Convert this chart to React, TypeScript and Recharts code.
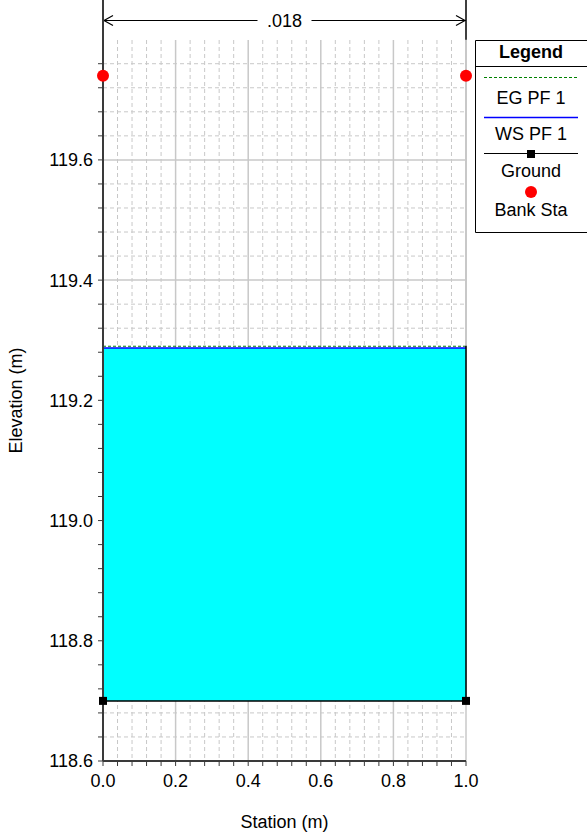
import React from 'react';
import { ComposedChart, Line, Area, Scatter, XAxis, YAxis, CartesianGrid, ReferenceLine } from 'recharts';

// cross section values
const groundStation = [0, 0, 1, 1];
const groundElev = [119.866, 118.7, 118.7, 119.866];
const wsStation = [0, 1];
const wsElev = [119.287, 119.287];
const egElev = [119.29, 119.29];
const bankStation = [0, 1];
const bankElev = [119.74, 119.74];
const nValue = '.018';
const nValueElev = 119.833;

// axis ticks (majors every 0.2, minors every 0.04)
const xTicks = [0, 0.04, 0.08, 0.12, 0.16, 0.2, 0.24, 0.28, 0.32, 0.36, 0.4, 0.44, 0.48, 0.52, 0.56, 0.6, 0.64, 0.68, 0.72, 0.76, 0.8, 0.84, 0.88, 0.92, 0.96, 1.0];
const yTicks = [118.6, 118.64, 118.68, 118.72, 118.76, 118.8, 118.84, 118.88, 118.92, 118.96, 119.0, 119.04, 119.08, 119.12, 119.16, 119.2, 119.24, 119.28, 119.32, 119.36, 119.4, 119.44, 119.48, 119.52, 119.56, 119.6, 119.64, 119.68, 119.72, 119.76];

const FONT = '"Liberation Sans", Arial, sans-serif';
const GRID = '#c8c8c8';
const AXIS = '#3a3a3a';
const GRID_TOP = 40; // grid stops below the n-value strip

const isMajor = (v: number) => Math.abs(v * 5 - Math.round(v * 5)) < 1e-6;

const groundData = groundStation.map((s, i) => ({ station: s, elev: groundElev[i] }));
const wsData = wsStation.map((s, i) => ({ station: s, ws: wsElev[i], eg: egElev[i] }));
const bankData = bankStation.map((s, i) => ({ station: s, elev: bankElev[i] }));

const GroundDot = (props: any) => {
    const { cx, cy, index } = props;
    if (cy < 10) return <g key={`gd-${index}`} />;
    return <rect key={`gd-${index}`} x={cx - 4} y={cy - 4} width={8} height={8} fill="#000" />;
};

const BankDot = (props: any) => <circle cx={props.cx} cy={props.cy} r={6} fill="#ff0000" />;

const NValueArrow = (props: any) => {
    const { x1, x2 } = props;
    const y = Math.round(props.y1) + 0.5;
    const mid = (x1 + x2) / 2;
    return (
        <g>
            <line x1={x1} y1={y} x2={mid - 27} y2={y} stroke="#000" strokeWidth={1.2} />
            <line x1={mid + 27} y1={y} x2={x2} y2={y} stroke="#000" strokeWidth={1.2} />
            <polyline points={`${x1 + 10},${y - 5} ${x1 + 1},${y} ${x1 + 10},${y + 5}`} fill="none" stroke="#000" strokeWidth={1.2} />
            <polyline points={`${x2 - 10},${y - 5} ${x2 - 1},${y} ${x2 - 10},${y + 5}`} fill="none" stroke="#000" strokeWidth={1.2} />
            <text x={mid} y={y + 6} textAnchor="middle" fontSize={18} fontFamily={FONT} fill="#000">{nValue}</text>
        </g>
    );
};

const LegendBox = () => (
    <svg width={112} height={193} style={{ position: 'absolute', left: 475, top: 40 }}>
        <path d="M112,0.5 H0.5 V192.5 H112" fill="none" stroke="#000" strokeWidth={1} />
        <line x1={0} y1={26.5} x2={112} y2={26.5} stroke="#000" strokeWidth={1} />
        <text x={56} y={18} textAnchor="middle" fontSize={18} fontWeight="bold" fontFamily={FONT}>Legend</text>
        <line x1={9} y1={37.5} x2={103} y2={37.5} stroke="#008000" strokeWidth={1} strokeDasharray="3 2" />
        <text x={56} y={64} textAnchor="middle" fontSize={18} fontFamily={FONT}>EG PF 1</text>
        <line x1={9} y1={77.5} x2={103} y2={77.5} stroke="#0000ff" strokeWidth={1.5} />
        <text x={56} y={100} textAnchor="middle" fontSize={18} fontFamily={FONT}>WS PF 1</text>
        <line x1={9} y1={113.5} x2={103} y2={113.5} stroke="#000" strokeWidth={1} />
        <rect x={52} y={110} width={8} height={8} fill="#000" />
        <text x={56} y={137} textAnchor="middle" fontSize={18} fontFamily={FONT}>Ground</text>
        <circle cx={56} cy={152} r={6} fill="#ff0000" />
        <text x={56} y={176} textAnchor="middle" fontSize={18} fontFamily={FONT}>Bank Sta</text>
    </svg>
);

export default function App() {
    const minorX = xTicks.filter((v) => !isMajor(v));
    const majorX = xTicks.filter((v) => isMajor(v));
    const minorY = yTicks.filter((v) => !isMajor(v));
    const majorY = yTicks.filter((v) => isMajor(v));
    return (
        <div style={{ position: 'relative', width: 587, height: 834, fontFamily: FONT }}>
            <style>{'body{margin:0;overflow:hidden}'}</style>
            <ComposedChart width={587} height={834} margin={{ top: 0, right: 121, bottom: 0, left: 0 }}>
                <XAxis
                    dataKey="station"
                    type="number"
                    domain={[0, 1]}
                    ticks={xTicks}
                    interval={0}
                    tickFormatter={(v: number) => (isMajor(v) ? v.toFixed(1) : '')}
                    tickSize={5}
                    tickMargin={8}
                    height={73}
                    stroke={AXIS}
                    axisLine={{ stroke: AXIS, strokeWidth: 2 }}
                    tick={{ fill: '#000', fontSize: 18, fontFamily: FONT }}
                    label={{ value: 'Station (m)', position: 'insideBottom', offset: 6, fill: '#000', fontSize: 18, fontFamily: FONT }}
                />
                <YAxis
                    type="number"
                    domain={[118.6, 'dataMax']}
                    ticks={yTicks}
                    interval={0}
                    tickFormatter={(v: number) => (isMajor(v) ? v.toFixed(1) : '')}
                    tickSize={5}
                    tickMargin={5}
                    width={103}
                    stroke={AXIS}
                    axisLine={{ stroke: AXIS, strokeWidth: 2 }}
                    tick={{ fill: '#000', fontSize: 18, fontFamily: FONT }}
                    label={({ viewBox }: any) => (
                        <text
                            x={22}
                            y={viewBox.y + viewBox.height / 2 + 20}
                            transform={`rotate(-90, 22, ${viewBox.y + viewBox.height / 2 + 20})`}
                            textAnchor="middle"
                            fontSize={18}
                            fontFamily={FONT}
                            fill="#000"
                        >
                            Elevation (m)
                        </text>
                    )}
                />
                <CartesianGrid
                    y={GRID_TOP}
                    height={761 - GRID_TOP}
                    horizontalValues={minorY}
                    verticalValues={minorX}
                    stroke={GRID}
                    strokeDasharray="4 3"
                />
                <CartesianGrid
                    y={GRID_TOP}
                    height={761 - GRID_TOP}
                    horizontalValues={majorY}
                    verticalValues={majorX}
                    stroke={GRID}
                    strokeWidth={1.5}
                />
                <Area
                    data={wsData}
                    dataKey="ws"
                    type="linear"
                    baseValue={118.7}
                    fill="#00ffff"
                    fillOpacity={1}
                    stroke="#0000ff"
                    strokeWidth={1.5}
                    isAnimationActive={false}
                />
                <Line
                    data={wsData}
                    dataKey="eg"
                    type="linear"
                    stroke="#008000"
                    strokeWidth={1}
                    strokeDasharray="3 2"
                    dot={false}
                    isAnimationActive={false}
                />
                <Line
                    data={groundData}
                    dataKey="elev"
                    type="linear"
                    stroke="#000"
                    strokeWidth={1.5}
                    dot={GroundDot}
                    isAnimationActive={false}
                />
                <ReferenceLine
                    segment={[{ x: 1, y: wsElev[1] + 0.004 }, { x: 1, y: 119.8 }]}
                    stroke={GRID}
                    strokeWidth={2}
                />
                <ReferenceLine
                    segment={[{ x: 0, y: nValueElev }, { x: 1, y: nValueElev }]}
                    shape={NValueArrow}
                />
                <Scatter data={bankData} dataKey="elev" shape={BankDot} isAnimationActive={false} />
            </ComposedChart>
            <LegendBox />
        </div>
    );
}
